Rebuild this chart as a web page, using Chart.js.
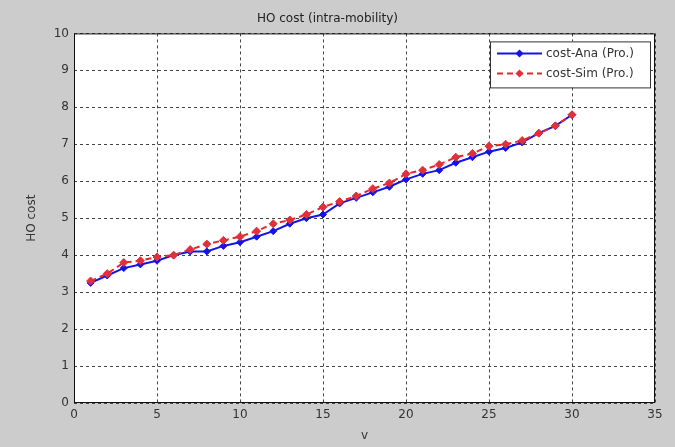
<!DOCTYPE html>
<html>
<head>
<meta charset="utf-8">
<script src="https://cdn.jsdelivr.net/npm/chart.js@4.4.0/dist/chart.umd.min.js"></script>
<style>
  html, body { margin:0; padding:0; background:#cccccc; }
  #wrap { width:675px; height:447px; }
</style>
</head>
<body>
<div id="wrap"><canvas id="hoChart" width="675" height="447"></canvas></div>
<script>
/* ===== Data ===== */
const speeds = [1,2,3,4,5,6,7,8,9,10,11,12,13,14,15,16,17,18,19,20,21,22,23,24,25,26,27,28,29,30];
const costAna = [3.25,3.45,3.65,3.75,3.85,4.0,4.1,4.1,4.25,4.35,4.5,4.65,4.85,5.0,5.1,5.4,5.55,5.7,5.85,6.05,6.2,6.3,6.5,6.65,6.8,6.9,7.05,7.3,7.5,7.8];
const costSim = [3.3,3.5,3.8,3.85,3.95,4.0,4.15,4.3,4.4,4.5,4.65,4.85,4.95,5.1,5.3,5.45,5.6,5.8,5.95,6.2,6.3,6.45,6.65,6.75,6.95,7.0,7.1,7.3,7.5,7.8];
const xTicks = [0,5,10,15,20,25,30,35];
const yTicks = [0,1,2,3,4,5,6,7,8,9,10];

const FONT = '"DejaVu Sans", Verdana, sans-serif';

/* ===== Figure / axes box (gray figure, white axes, black frame) ===== */
const axesBox = {
  id: 'axesBox',
  beforeDraw(chart){
    const {ctx, chartArea:a} = chart;
    ctx.save();
    ctx.fillStyle = '#cccccc';
    ctx.fillRect(0, 0, chart.width, chart.height);
    ctx.fillStyle = '#ffffff';
    ctx.fillRect(a.left, a.top, a.right-a.left, a.bottom-a.top);
    ctx.restore();
  },
  afterDatasetsDraw(chart){
    const {ctx, chartArea:a} = chart;
    ctx.save();
    ctx.strokeStyle = '#111';
    ctx.lineWidth = 1;
    ctx.strokeRect(a.left+0.5, a.top+0.5, a.right-a.left-1, a.bottom-a.top-1);
    ctx.restore();
  }
};

/* ===== Legend box, top right inside the axes ===== */
const boxLegend = {
  id: 'boxLegend',
  afterDraw(chart){
    const {ctx, chartArea:a} = chart;
    const w = 160, h = 46;
    const x = a.right - w - 5, y = a.top + 8;
    ctx.save();
    ctx.fillStyle = '#fff';
    ctx.fillRect(x, y, w, h);
    ctx.strokeStyle = '#333';
    ctx.lineWidth = 1;
    ctx.strokeRect(x+0.5, y+0.5, w, h);
    ctx.font = '12px ' + FONT;
    ctx.textBaseline = 'middle';
    chart.data.datasets.forEach((ds, i)=>{
      const ly = y + 12 + i*20;
      ctx.strokeStyle = ds.borderColor;
      ctx.lineWidth = 2;
      ctx.setLineDash(ds.borderDash || []);
      ctx.beginPath(); ctx.moveTo(x+7, ly); ctx.lineTo(x+52, ly); ctx.stroke();
      ctx.setLineDash([]);
      ctx.fillStyle = ds.pointBackgroundColor;
      ctx.beginPath();
      ctx.moveTo(x+29.5, ly-4); ctx.lineTo(x+33.5, ly); ctx.lineTo(x+29.5, ly+4); ctx.lineTo(x+25.5, ly);
      ctx.closePath(); ctx.fill();
      ctx.fillStyle = '#333';
      ctx.fillText(ds.label, x+56, ly);
    });
    ctx.restore();
  }
};

const gridStyle = { color:'#444', lineWidth:1, drawTicks:false };

new Chart(document.getElementById('hoChart'), {
  type: 'line',
  data: {
    datasets: [
      {
        label: 'cost-Ana (Pro.)',
        data: speeds.map((v,i)=>({x:v, y:costAna[i]})),
        borderColor: '#1414e6',
        backgroundColor: '#1414e6',
        pointBackgroundColor: '#1414e6',
        pointBorderColor: '#1414e6',
        borderWidth: 2,
        pointStyle: 'rectRot',
        pointRadius: 3.5,
        pointBorderWidth: 1,
        tension: 0,
        order: 2
      },
      {
        label: 'cost-Sim (Pro.)',
        data: speeds.map((v,i)=>({x:v, y:costSim[i]})),
        borderColor: '#e8242c',
        backgroundColor: '#e8242c',
        pointBackgroundColor: '#e0303a',
        pointBorderColor: '#e0303a',
        borderWidth: 2,
        borderDash: [6,4],
        pointStyle: 'rectRot',
        pointRadius: 4,
        pointBorderWidth: 1,
        tension: 0,
        order: 1
      }
    ]
  },
  options: {
    responsive: false,
    animation: false,
    layout: { padding: { top:0, right:20, bottom:0, left:0 } },
    plugins: {
      legend: { display:false },
      tooltip: { enabled:false },
      title: {
        display: true,
        text: 'HO cost (intra-mobility)',
        color: '#222',
        font: { family: FONT, size: 12, weight: 'normal' },
        padding: { top: 12, bottom: 7 }
      }
    },
    scales: {
      x: {
        type: 'linear',
        min: 0, max: 35,
        afterBuildTicks: s => { s.ticks = xTicks.map(v=>({value:v})); },
        afterFit: s => { s.height = 44; },
        grid: { ...gridStyle },
        border: { display:false, dash:[3,3] },
        ticks: { color:'#333', padding:5, font:{ family:FONT, size:12 }, maxRotation:0 },
        title: { display:true, text:'v', color:'#333', font:{ family:FONT, size:12 }, padding:{ top:0, bottom:4 } }
      },
      y: {
        type: 'linear',
        min: 0, max: 10,
        afterBuildTicks: s => { s.ticks = yTicks.map(v=>({value:v})); },
        afterFit: s => { s.width = 74; },
        grid: { ...gridStyle },
        border: { display:false, dash:[3,3] },
        ticks: { color:'#333', padding:5, font:{ family:FONT, size:12 } },
        title: { display:true, text:'HO cost', color:'#333', font:{ family:FONT, size:12 }, padding:{ top:25, bottom:0 } }
      }
    }
  },
  plugins: [axesBox, boxLegend]
});
</script>
</body>
</html>
